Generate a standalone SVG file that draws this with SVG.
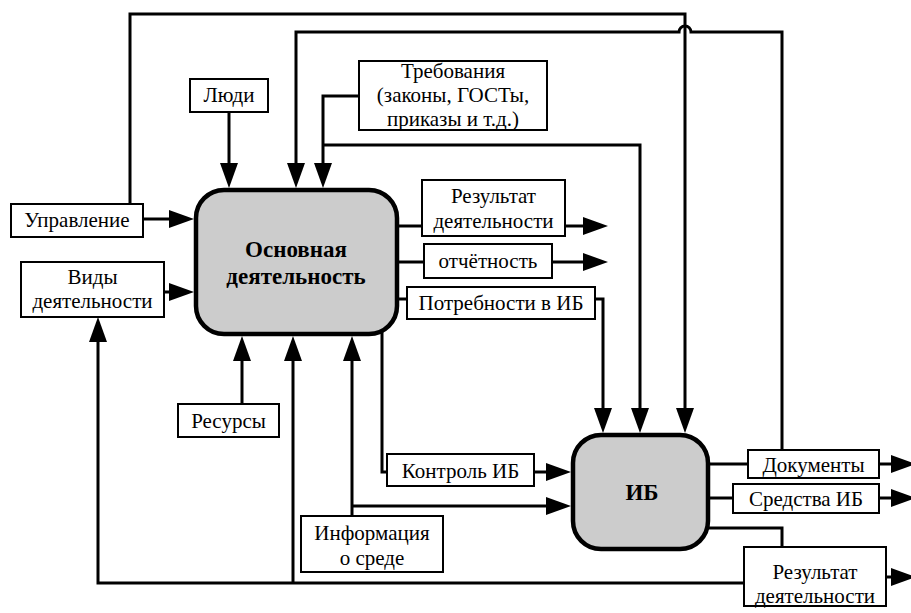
<svg xmlns="http://www.w3.org/2000/svg" width="911" height="613" viewBox="0 0 911 613">
<defs>
<style>
.box{fill:#fff;stroke:#000;stroke-width:2}
.main{fill:#cccccc;stroke:#000;stroke-width:4.5}
.ln{fill:none;stroke:#000;stroke-width:3}
.arr{marker-end:url(#arr)}
.t{font-family:'Liberation Serif','Times New Roman',serif;font-size:21px;fill:#000;text-anchor:middle}
.b{font-weight:bold;font-size:23px}
</style>
<marker id="arr" markerUnits="userSpaceOnUse" markerWidth="25" markerHeight="18" refX="13" refY="9" orient="auto">
<path d="M0,0 L25,9 L0,18 z" fill="#000"/>
</marker>
</defs>
<rect width="911" height="613" fill="#fff"/>
<g id="connectors">
<path class="ln arr" d="M130,204 V14 H685 V421"/>
<path class="ln arr" d="M782,450 V32 H691 A6,6 0 0 0 679,32 H296 V176"/>
<path class="ln arr" d="M359,96 H323 V176"/>
<path class="ln arr" d="M323,145 H640 V421"/>
<path class="ln arr" d="M229,112 V176"/>
<path class="ln arr" d="M143,219 H182"/>
<path class="ln arr" d="M164,292 H182"/>
<path class="ln" d="M397,226 H422"/>
<path class="ln arr" d="M565,226 H596"/>
<path class="ln" d="M397,262 H424"/>
<path class="ln arr" d="M552,262 H596"/>
<path class="ln" d="M397,299 H407"/>
<path class="ln arr" d="M595,299 H603 V421"/>
<path class="ln arr" d="M242,404 V348"/>
<path class="ln arr" d="M744,583 H98 V329"/>
<path class="ln arr" d="M293,583 V348"/>
<path class="ln arr" d="M352,516 V348"/>
<path class="ln arr" d="M352,506 H559"/>
<path class="ln" d="M382,330 V472 H387"/>
<path class="ln arr" d="M534,472 H559"/>
<path class="ln" d="M710,464 H748"/>
<path class="ln arr" d="M879,464 H904"/>
<path class="ln" d="M710,498 H733"/>
<path class="ln arr" d="M879,498 H904"/>
<path class="ln" d="M708,528 H782 V547"/>
<path class="ln arr" d="M886,577 H904"/>
</g>
<g id="main">
<rect class="main" x="196" y="190" width="201" height="144" rx="28"/>
<text class="t b" x="296" y="257">Основная</text>
<text class="t b" x="296" y="284">деятельность</text>
</g>
<g id="ib">
<rect class="main" x="573" y="435" width="135" height="114" rx="28"/>
<text class="t b" x="642" y="500">ИБ</text>
</g>
<g id="people">
<rect class="box" x="190" y="79" width="78" height="33"/>
<text class="t" x="229" y="102">Люди</text>
</g>
<g id="requirements">
<rect class="box" x="359" y="61" width="188" height="69"/>
<text class="t" x="453" y="78">Требования</text>
<text class="t" x="453" y="102">(законы, ГОСТы,</text>
<text class="t" x="453" y="126">приказы и т.д.)</text>
</g>
<g id="control">
<rect class="box" x="11" y="204" width="132" height="33"/>
<text class="t" x="77" y="227">Управление</text>
</g>
<g id="kinds">
<rect class="box" x="21" y="262" width="143" height="55"/>
<text class="t" x="92.5" y="284">Виды</text>
<text class="t" x="92.5" y="308">деятельности</text>
</g>
<g id="result1">
<rect class="box" x="422" y="180" width="143" height="56"/>
<text class="t" x="493.5" y="203">Результат</text>
<text class="t" x="493.5" y="228">деятельности</text>
</g>
<g id="report">
<rect class="box" x="424" y="244" width="128" height="34"/>
<text class="t" x="488" y="268">отчётность</text>
</g>
<g id="needs">
<rect class="box" x="407" y="287" width="188" height="32"/>
<text class="t" x="501" y="310">Потребности в ИБ</text>
</g>
<g id="resources">
<rect class="box" x="178" y="404" width="101" height="33"/>
<text class="t" x="228.5" y="428">Ресурсы</text>
</g>
<g id="ibcontrol">
<rect class="box" x="387" y="454" width="147" height="32"/>
<text class="t" x="460.5" y="478">Контроль ИБ</text>
</g>
<g id="envinfo">
<rect class="box" x="301" y="516" width="142" height="56"/>
<text class="t" x="372" y="540">Информация</text>
<text class="t" x="372" y="565">о среде</text>
</g>
<g id="docs">
<rect class="box" x="748" y="450" width="131" height="28"/>
<text class="t" x="813.5" y="472">Документы</text>
</g>
<g id="tools">
<rect class="box" x="733" y="484" width="146" height="29"/>
<text class="t" x="806" y="506">Средства ИБ</text>
</g>
<g id="result2">
<rect class="box" x="744" y="547" width="142" height="59"/>
<text class="t" x="815" y="579">Результат</text>
<text class="t" x="815" y="603">деятельности</text>
</g>
</svg>
